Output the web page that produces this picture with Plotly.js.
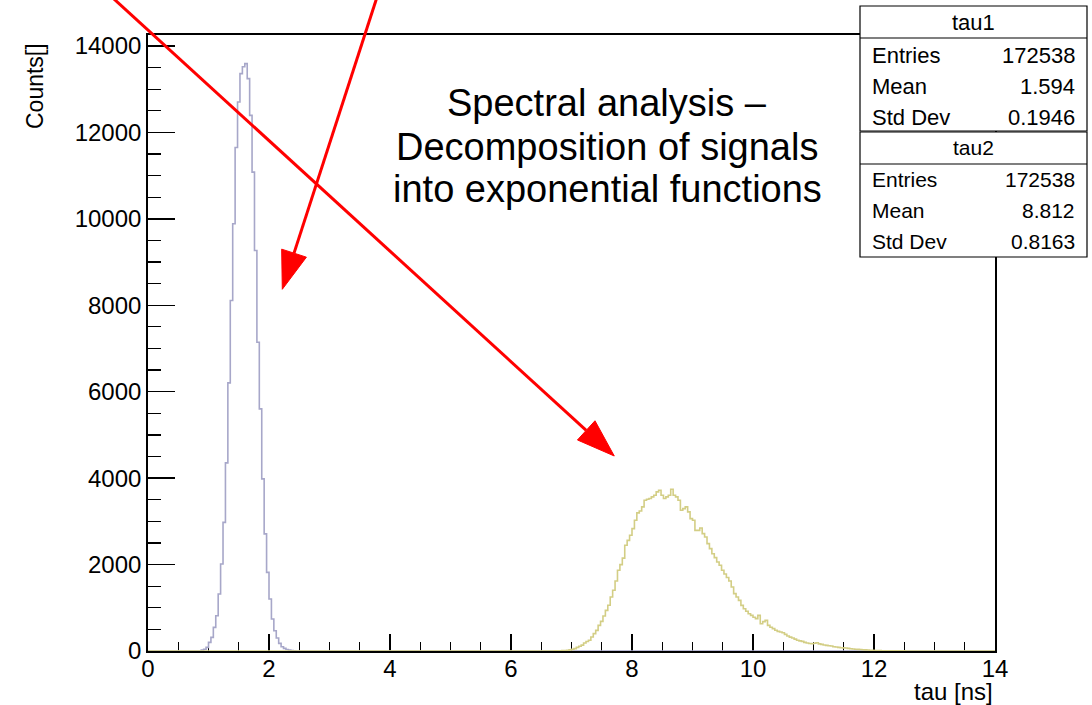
<!DOCTYPE html>
<html>
<head>
<meta charset="utf-8">
<script src="https://cdn.plot.ly/plotly-3.0.1.min.js"></script>
<style>
  html, body { margin: 0; padding: 0; background: #fff; }
  #plot { width: 1092px; height: 705px; }
</style>
</head>
<body>
<div id="plot"></div>
<script>
// Binning of both histograms: 350 bins of 0.04 ns between 0 and 14 ns
const X_MIN = 0;
const X_MAX = 14;
const BIN_WIDTH = 0.04;
const Y_MAX = 14253;

// tau1 counts, first value belongs to the bin with lower edge TAU1_FIRST_EDGE
const TAU1_FIRST_EDGE = 0.88;
const tau1Counts = [
  20, 40, 83, 199, 315, 546, 817, 1320, 2014, 2977,
  4353, 6205, 8111, 9886, 11650, 12702, 13360, 13520, 13590, 13244,
  12394, 11081, 9268, 7145, 5602, 3982, 2709, 1820, 1204, 741,
  470, 301, 176, 100, 60, 35, 20, 10, 5
];

// tau2 counts, first value belongs to the bin with lower edge TAU2_FIRST_EDGE
const TAU2_FIRST_EDGE = 6.72;
const tau2Counts = [
  2, 4, 6, 9, 13, 19, 27, 38, 55, 85,
  110, 135, 184, 220, 250, 323, 401, 478, 594, 686,
  810, 941, 1060, 1250, 1404, 1620, 1867, 1998, 2150, 2446,
  2560, 2677, 2832, 3025, 3195, 3241, 3334, 3488, 3511, 3527,
  3565, 3604, 3681, 3720, 3604, 3527, 3565, 3604, 3743, 3604,
  3565, 3488, 3257, 3295, 3334, 3218, 3064, 3025, 2792, 2792,
  2846, 2715, 2638, 2484, 2369, 2250, 2160, 2060, 1983, 1867,
  1780, 1700, 1620, 1480, 1327, 1250, 1172, 1056, 979, 920,
  863, 825, 780, 748, 825, 632, 680, 709, 594, 550,
  517, 480, 455, 440, 424, 385, 347, 320, 301, 275,
  247, 235, 223, 200, 184, 175, 169, 180, 192, 165,
  154, 140, 130, 122, 115, 100, 92, 84, 76, 72,
  69, 60, 53, 48, 42, 38, 34, 30, 26, 22,
  18, 15, 12, 10, 8, 7, 6, 5, 4, 4,
  3, 3, 2, 2, 2, 1, 1, 1
];

// Statistics boxes
const statLabels = ["Entries", "Mean", "Std Dev"];
const tau1Stats = ["172538", "1.594", "0.1946"];
const tau2Stats = ["172538", "8.812", "0.8163"];

// Title lines
const titleLines = ["Spectral analysis \u2013", "Decomposition of signals", "into exponential functions"];

// Arrows: start and tip in axis units (ns, counts)
const arrows = [
  { from: [-0.653, 15202], to: [7.707, 4512] },
  { from: [3.802, 15202], to: [2.220, 8369] }
];

// ---------------------------------------------------------------------------
const W = 1092, H = 705;
const M = { l: 148, r: 97, t: 35, b: 54 };
const PW = W - M.l - M.r;
const PH = H - M.t - M.b;
const FONT = "Liberation Sans, Arial, Helvetica, sans-serif";

const nBins = Math.round((X_MAX - X_MIN) / BIN_WIDTH);

// Full-range step histogram (zero outside the filled bins)
function stepTrace(firstEdge, counts, color) {
  const start = Math.round((firstEdge - X_MIN) / BIN_WIDTH);
  const xs = [], ys = [];
  for (let i = 0; i < nBins; i++) {
    const j = i - start;
    xs.push(X_MIN + i * BIN_WIDTH);
    ys.push(j >= 0 && j < counts.length ? counts[j] : 0);
  }
  xs.push(X_MAX);
  ys.push(ys[ys.length - 1]);
  return {
    type: "scatter", mode: "lines", x: xs, y: ys,
    line: { shape: "hv", color: color, width: 1.6 },
    hoverinfo: "skip", showlegend: false
  };
}

const traces = [
  stepTrace(TAU1_FIRST_EDGE, tau1Counts, "#a7a7c9"),
  stepTrace(TAU2_FIRST_EDGE, tau2Counts, "#d3ce85")
];

// pixel -> paper helpers
const px2x = px => (px - M.l) / PW;
const py2y = py => (H - M.b - py) / PH;
const dataPx = (x, y) => [M.l + (x - X_MIN) / (X_MAX - X_MIN) * PW, M.t + (1 - y / Y_MAX) * PH];

const shapes = [];
const annotations = [];

// Arrows (line + filled head)
const HEAD_LEN = 38, HEAD_HALF = 13;
arrows.forEach(a => {
  const [sx, sy] = dataPx(a.from[0], a.from[1]);
  const [tx, ty] = dataPx(a.to[0], a.to[1]);
  const dx = tx - sx, dy = ty - sy, len = Math.hypot(dx, dy);
  const ux = dx / len, uy = dy / len;
  const bx = tx - HEAD_LEN * ux, by = ty - HEAD_LEN * uy;
  const p1 = [bx - HEAD_HALF * uy, by + HEAD_HALF * ux];
  const p2 = [bx + HEAD_HALF * uy, by - HEAD_HALF * ux];
  shapes.push({
    type: "line", xref: "paper", yref: "paper", layer: "above",
    x0: px2x(sx), y0: py2y(sy), x1: px2x(bx), y1: py2y(by),
    line: { color: "#ff0000", width: 3 }
  });
  shapes.push({
    type: "path", xref: "paper", yref: "paper", layer: "above",
    path: `M ${px2x(tx)},${py2y(ty)} L ${px2x(p1[0])},${py2y(p1[1])} L ${px2x(p2[0])},${py2y(p2[1])} Z`,
    fillcolor: "#ff0000", line: { color: "#ff0000", width: 1 }
  });
});

// Statistics boxes
function statBox(name, values, top, fontSize, rowShift) {
  const left = 860, right = 1087, headH = 32, rowH = 31;
  const bottom = top + headH + 3 * rowH;
  shapes.push({
    type: "rect", xref: "paper", yref: "paper", layer: "above",
    x0: px2x(left), x1: px2x(right), y0: py2y(top), y1: py2y(bottom),
    fillcolor: "#ffffff", line: { color: "#000", width: 1.2 }
  });
  shapes.push({
    type: "line", xref: "paper", yref: "paper", layer: "above",
    x0: px2x(left), x1: px2x(right), y0: py2y(top + headH), y1: py2y(top + headH),
    line: { color: "#000", width: 1.2 }
  });
  annotations.push({
    xref: "paper", yref: "paper", x: px2x((left + right) / 2), y: py2y(top + headH / 2),
    xanchor: "center", yanchor: "middle", showarrow: false, text: name,
    font: { family: FONT, size: fontSize, color: "#000" }
  });
  statLabels.forEach((lab, i) => {
    const cy = top + headH + rowH * (i + 0.5) + rowShift;
    annotations.push({
      xref: "paper", yref: "paper", x: px2x(left + 10), y: py2y(cy),
      xanchor: "left", yanchor: "middle", showarrow: false, text: lab,
      font: { family: FONT, size: fontSize, color: "#000" }
    });
    annotations.push({
      xref: "paper", yref: "paper", x: px2x(right - 10), y: py2y(cy),
      xanchor: "right", yanchor: "middle", showarrow: false, text: values[i],
      font: { family: FONT, size: fontSize, color: "#000" }
    });
  });
}
statBox("tau1", tau1Stats, 6, 22, 2.5);
statBox("tau2", tau2Stats, 132, 21, 0);

// Title, three centred lines
const titleY = [103, 147, 189];
titleLines.forEach((t, i) => {
  annotations.push({
    xref: "paper", yref: "paper", x: px2x(607), y: py2y(titleY[i]),
    xanchor: "center", yanchor: "middle", showarrow: false, text: t,
    font: { family: FONT, size: 38, color: "#000" }
  });
});

// Axis titles
annotations.push({
  xref: "paper", yref: "paper", x: px2x(35), y: py2y(86),
  xanchor: "center", yanchor: "middle", showarrow: false, textangle: -90,
  text: "Counts[]", font: { family: FONT, size: 23, color: "#000" }
});
annotations.push({
  xref: "paper", yref: "paper", x: 1, y: py2y(691),
  xanchor: "right", yanchor: "middle", showarrow: false,
  text: "tau [ns]", font: { family: FONT, size: 24, color: "#000" }
});

const layout = {
  width: W, height: H,
  margin: M,
  separators: ".",
  paper_bgcolor: "#ffffff", plot_bgcolor: "#ffffff",
  font: { family: FONT, color: "#000" },
  showlegend: false,
  xaxis: {
    range: [X_MIN, X_MAX], tick0: 0, dtick: 2,
    ticks: "inside", ticklen: 17, tickwidth: 1.5, tickcolor: "#000",
    minor: { dtick: 0.5, ticks: "inside", ticklen: 9, tickwidth: 1.2, tickcolor: "#000", showgrid: false },
    showline: true, linecolor: "#000", linewidth: 1.8, mirror: true,
    showgrid: false, zeroline: false, layer: "below traces",
    ticklabelstandoff: -5,
    tickfont: { family: FONT, size: 24, color: "#000" }
  },
  yaxis: {
    range: [0, Y_MAX], tick0: 0, dtick: 2000, tickformat: "d",
    ticks: "inside", ticklen: 27, tickwidth: 1.5, tickcolor: "#000",
    minor: { dtick: 500, ticks: "inside", ticklen: 13, tickwidth: 1.2, tickcolor: "#000", showgrid: false },
    showline: true, linecolor: "#000", linewidth: 1.8, mirror: true,
    showgrid: false, zeroline: false, layer: "below traces",
    tickfont: { family: FONT, size: 24, color: "#000" }
  },
  shapes: shapes,
  annotations: annotations
};

Plotly.newPlot("plot", traces, layout, { staticPlot: true, displayModeBar: false });
</script>
</body>
</html>
